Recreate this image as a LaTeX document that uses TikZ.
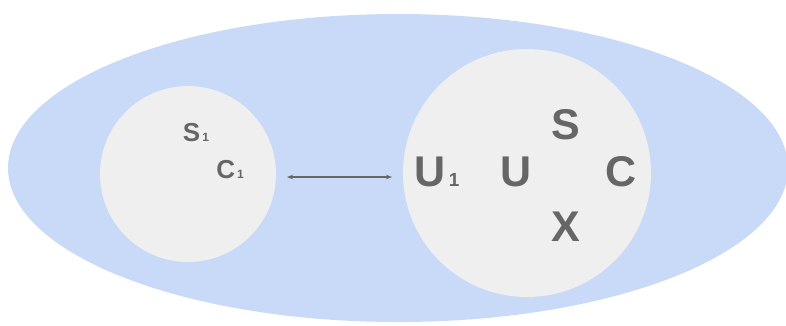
\documentclass[tikz,border=0pt]{standalone}
\usepackage{fontspec}
\setmainfont{Liberation Sans}
\usetikzlibrary{arrows.meta,positioning}
\definecolor{setblue}{HTML}{C9DAF8}
\definecolor{setgray}{HTML}{EFEFEF}
\definecolor{labgray}{HTML}{666666}
\newcommand{\lowone}[1]{{\fontsize{#1}{#1}\selectfont\,1}}

\begin{document}
\begin{tikzpicture}[x=1pt,y=-1pt,every node/.style={text=labgray,font=\bfseries,inner sep=0pt},
  small/.style={font=\bfseries\fontsize{26}{26}\selectfont},
  big/.style={font=\bfseries\fontsize{43}{43}\selectfont}]
\useasboundingbox (0,0) rectangle (786,325);
\fill [setblue] (398,168) ellipse [x radius=390,y radius=154];
\fill [setgray] (188,174) circle [radius=88];
\fill [setgray] (527,173) circle [radius=124];
\node [small] (s1) at (196,133) {S\lowone{12}};
\node [small] (c1) at (230,170) {C\lowone{12}};
\node [big] (u1) at (437,172) {U\lowone{19}};
\node [big] (u) at (516,172) {U};
\node [big] (s) at (566,125) {S};
\node [big] (c) at (621,172) {C};
\node [big] (x) at (566,227) {X};
\coordinate (left end) at (287,177);
\coordinate (right end) at (392,177);
\draw [labgray,line width=1.2pt,{Stealth[length=6pt]}-{Stealth[length=6pt]}] (left end) -- (right end);
\end{tikzpicture}
\end{document}
